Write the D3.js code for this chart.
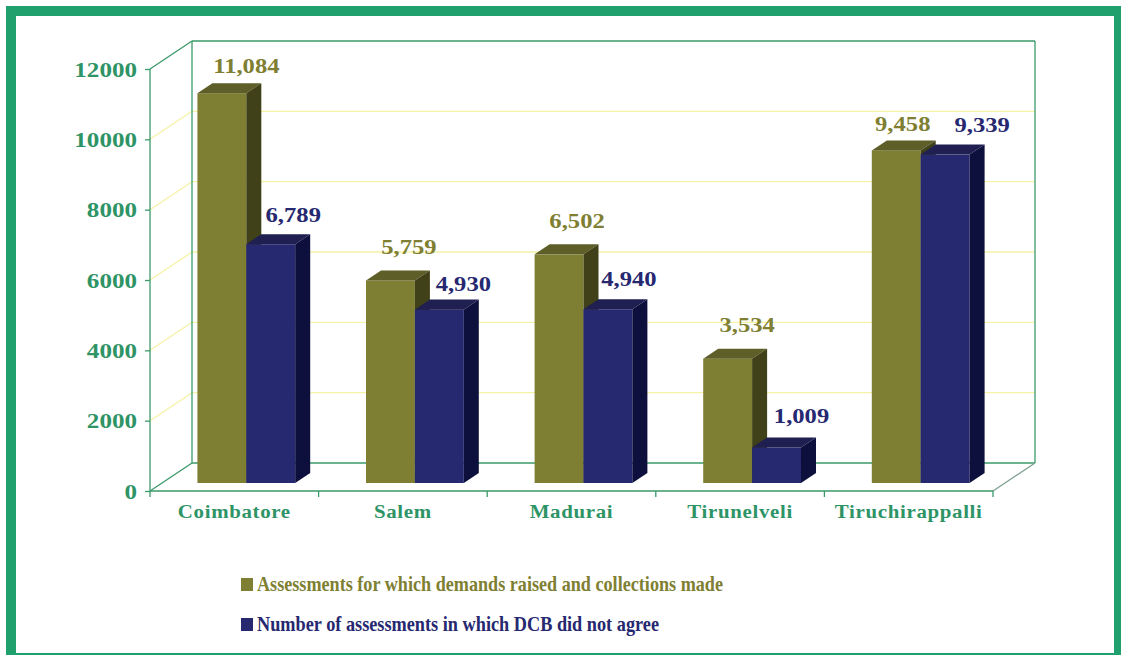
<!DOCTYPE html>
<html>
<head>
<meta charset="utf-8">
<script src="https://cdn.jsdelivr.net/npm/d3@7"></script>
<style>
  body { margin: 0; background: #fff; overflow: hidden; }
  text { font-family: "Liberation Serif", "Times New Roman", serif; font-weight: bold; }
</style>
</head>
<body>
<svg id="chart"></svg>
<script>
var categories = ["Coimbatore", "Salem", "Madurai", "Tirunelveli", "Tiruchirappalli"];
var demandsRaised = [11084, 5759, 6502, 3534, 9458];
var dcbNotAgree = [6789, 4930, 4940, 1009, 9339];
var seriesNames = [
  "Assessments for which demands raised and collections made",
  "Number of assessments in which DCB did not agree"
];
var yTicks = [0, 2000, 4000, 6000, 8000, 10000, 12000];

var width = 1121, height = 655;
var x0 = 150, x1 = 993, y0 = 491, yTop = 69;
var depthX = 42, depthY = 28;
var barFront = 0.2857, barBack = 0.643;

var front = ["#7f7f33", "#262870"];
var topC = ["#5e5e28", "#1f1f52"];
var sideC = ["#404019", "#0d0f3c"];
var green = "#3a9a6a";
var textGreen = "#2e9466";
var gridYellow = "#f6f2a6";

// label nudges [dx, dy above back top]
var labelNudge = [
  [[24.5, 10], [22.5, 12]],
  [[18.5, 16], [24, 8.5]],
  [[18, 16], [21, 13]],
  [[19.5, 17], [25, 15]],
  [[6.5, 9], [37, 13]]
];

var svg = d3.select("#chart").attr("width", width).attr("height", height);

// frame runs off the right and bottom edges
svg.append("rect")
  .attr("x", 11).attr("y", 11)
  .attr("width", 1108).attr("height", 647)
  .attr("fill", "none")
  .attr("stroke", "#20a06c")
  .attr("stroke-width", 10);

var x = d3.scaleBand().domain(categories).range([x0, x1]).paddingInner(0.42).paddingOuter(0.21);
var inner = d3.scaleBand().domain([0, 1]).range([0, x.bandwidth()]);
var y = d3.scaleLinear().domain([0, 12000]).range([y0, yTop]);

function P(px, v, f) {
  return [px + depthX * f, y(v) - depthY * f];
}
function line(a, b, color, w) {
  svg.append("line")
    .attr("x1", a[0]).attr("y1", a[1])
    .attr("x2", b[0]).attr("y2", b[1])
    .attr("stroke", color)
    .attr("stroke-width", w || 1.3);
}

// walls and grid
yTicks.forEach(function (t) {
  if (t === 0) return;
  var c = t === 12000 ? green : gridYellow;
  line(P(x0, t, 0), P(x0, t, 1), c);
  line(P(x0, t, 1), P(x1, t, 1), c);
});
line(P(x0, 0, 1), P(x0, 12000, 1), green);
line(P(x1, 0, 1), P(x1, 12000, 1), green);
line(P(x0, 0, 1), P(x1, 0, 1), green);
line(P(x0, 0, 0), P(x0, 0, 1), green);
line(P(x1, 0, 0), P(x1, 0, 1), "#7f9f8f");

// front axes
line([x0, y0 + 6], [x0, yTop], green);
line([x0, y0], [x1, y0], green);
var bounds = categories.map(function (c) { return x(c) - x.step() * 0.21; }).concat([x1]);
bounds.slice(1).forEach(function (b) { line([b, y0], [b, y0 + 6], green); });

var yAxis = svg.append("g")
  .attr("transform", "translate(" + x0 + ",0)")
  .call(d3.axisLeft(y).tickValues(yTicks).tickSize(5).tickSizeOuter(0).tickPadding(12));
yAxis.select(".domain").remove();
yAxis.selectAll("line").attr("stroke", green).attr("stroke-width", 1.3);
yAxis.selectAll("text").remove();
yTicks.forEach(function (t) {
  svg.append("text")
    .attr("transform", "translate(137," + (y(t) + 7.5) + ") scale(1.14,1)")
    .attr("text-anchor", "end")
    .attr("fill", textGreen)
    .style("font-size", "22px")
    .text(t);
});

categories.forEach(function (c) {
  svg.append("text")
    .attr("transform", "translate(" + (x(c) + x.bandwidth() / 2) + ",518) scale(1.1,1)")
    .attr("text-anchor", "middle")
    .attr("fill", textGreen)
    .style("font-size", "19px")
    .style("letter-spacing", "0.6px")
    .text(c);
});

// bars
var series = [demandsRaised, dcbNotAgree];
categories.forEach(function (c, i) {
  series.forEach(function (vals, s) {
    var v = vals[i];
    var bx = x(c) + inner(s);
    var w = inner.bandwidth();
    var a = P(bx, v, barFront), b = P(bx + w, v, barFront);
    var bb = P(bx + w, v, barBack), ab = P(bx, v, barBack);
    var b0 = P(bx + w, 0, barFront), bb0 = P(bx + w, 0, barBack);
    var a0 = P(bx, 0, barFront);
    svg.append("rect")
      .attr("x", a[0]).attr("y", a[1])
      .attr("width", w).attr("height", a0[1] - a[1])
      .attr("fill", front[s]);
    svg.append("polygon")
      .attr("points", [a, b, bb, ab].map(function (p) { return p.join(","); }).join(" "))
      .attr("fill", topC[s]);
    svg.append("polygon")
      .attr("points", [b, b0, bb0, bb].map(function (p) { return p.join(","); }).join(" "))
      .attr("fill", sideC[s]);
  });
});

// value labels
categories.forEach(function (c, i) {
  series.forEach(function (vals, s) {
    var v = vals[i];
    var cx = x(c) + inner(s) + inner.bandwidth() / 2 + depthX * barFront;
    var n = labelNudge[i][s];
    var backTop = y(v) - depthY * barBack;
    svg.append("text")
      .attr("transform", "translate(" + (cx + n[0]) + "," + (backTop - n[1]) + ") scale(1.12,1)")
      .attr("text-anchor", "middle")
      .attr("fill", front[s])
      .style("font-size", "22px")
      .text(d3.format(",")(v));
  });
});

// legend
var legendY = [591, 631];
var legendLen = [466, 402];
seriesNames.forEach(function (name, s) {
  svg.append("rect")
    .attr("x", 241).attr("y", legendY[s] - 13)
    .attr("width", 12).attr("height", 13)
    .attr("fill", front[s]);
  svg.append("text")
    .attr("x", 257).attr("y", legendY[s])
    .attr("fill", front[s])
    .style("font-size", "21px")
    .attr("textLength", legendLen[s])
    .attr("lengthAdjust", "spacingAndGlyphs")
    .text(name);
});
</script>
</body>
</html>
